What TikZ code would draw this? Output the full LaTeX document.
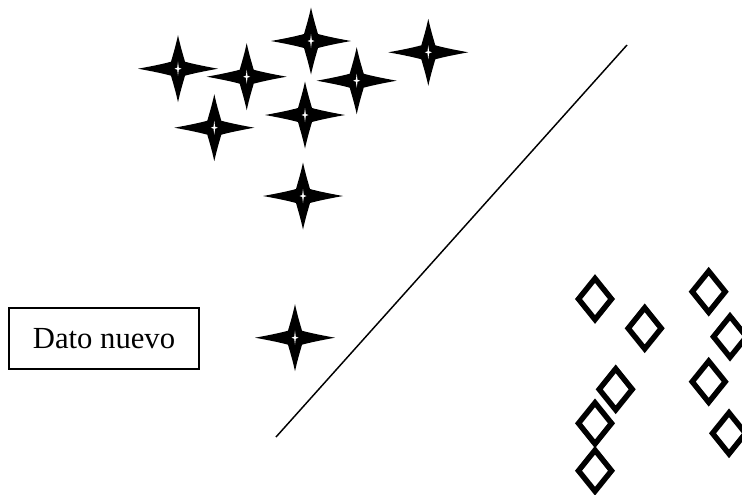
\documentclass[tikz,border=0pt]{standalone}
\usepackage{fontspec}
\setmainfont{Liberation Serif}
\begin{document}
\begin{tikzpicture}[x=0.75pt,y=-0.75pt,
  starpic/.pic={
    \fill[black] (40,0) .. controls (26,2.5) and (14,5) .. (7,7)
      .. controls (5,14) and (2.5,22) .. (0,33.5)
      .. controls (-2.5,22) and (-5,14) .. (-7,7)
      .. controls (-14,5) and (-26,2.5) .. (-40,0)
      .. controls (-26,-2.5) and (-14,-5) .. (-7,-7)
      .. controls (-5,-14) and (-2.5,-22) .. (0,-33.5)
      .. controls (2.5,-22) and (5,-14) .. (7,-7)
      .. controls (14,-5) and (26,-2.5) .. (40,0) -- cycle;
    \fill[white] (3.5,0) -- (0.8,1) -- (0,7) -- (-0.8,1) -- (-3.5,0) -- (-0.8,-1) -- (0,-7) -- (0.8,-1) -- cycle;
  },
  diapic/.pic={
    \draw[line width=4.1pt, line join=miter] (0,-20.5) -- (16.5,0) -- (0,20.5) -- (-16.5,0) -- cycle;
  },
  databox/.style={draw, line width=0.9pt, minimum width=142.5pt, minimum height=45.75pt,
    inner sep=0pt, font=\fontsize{23}{27}\selectfont}
]
\useasboundingbox (0,0) rectangle (742,494);
\begin{scope}
\clip (0,0) rectangle (742,494);
% stars
\pic at (178,68.7) {starpic};
\pic at (246.7,76.7) {starpic};
\pic at (311,41) {starpic};
\pic at (428.3,52.3) {starpic};
\pic at (356.7,80.7) {starpic};
\pic at (214.3,127.7) {starpic};
\pic at (305,115) {starpic};
\pic at (303,196) {starpic};
\pic at (295,337.7) {starpic};
% diamonds
\pic at (595,299) {diapic};
\pic at (644.7,328.3) {diapic};
\pic at (708.7,291.7) {diapic};
\pic at (730,336.7) {diapic};
\pic at (615.7,389.3) {diapic};
\pic at (708.7,381.7) {diapic};
\pic at (595,423.3) {diapic};
\pic at (729,433.3) {diapic};
\pic at (595,470.7) {diapic};
\end{scope}
% separating line
\coordinate (lineA) at (276,437);
\coordinate (lineB) at (627,45);
\draw[line width=1.1pt] (lineA) -- (lineB);
% box
\node[databox] (dato) at (104,338.5) {Dato nuevo};
\end{tikzpicture}
\end{document}
